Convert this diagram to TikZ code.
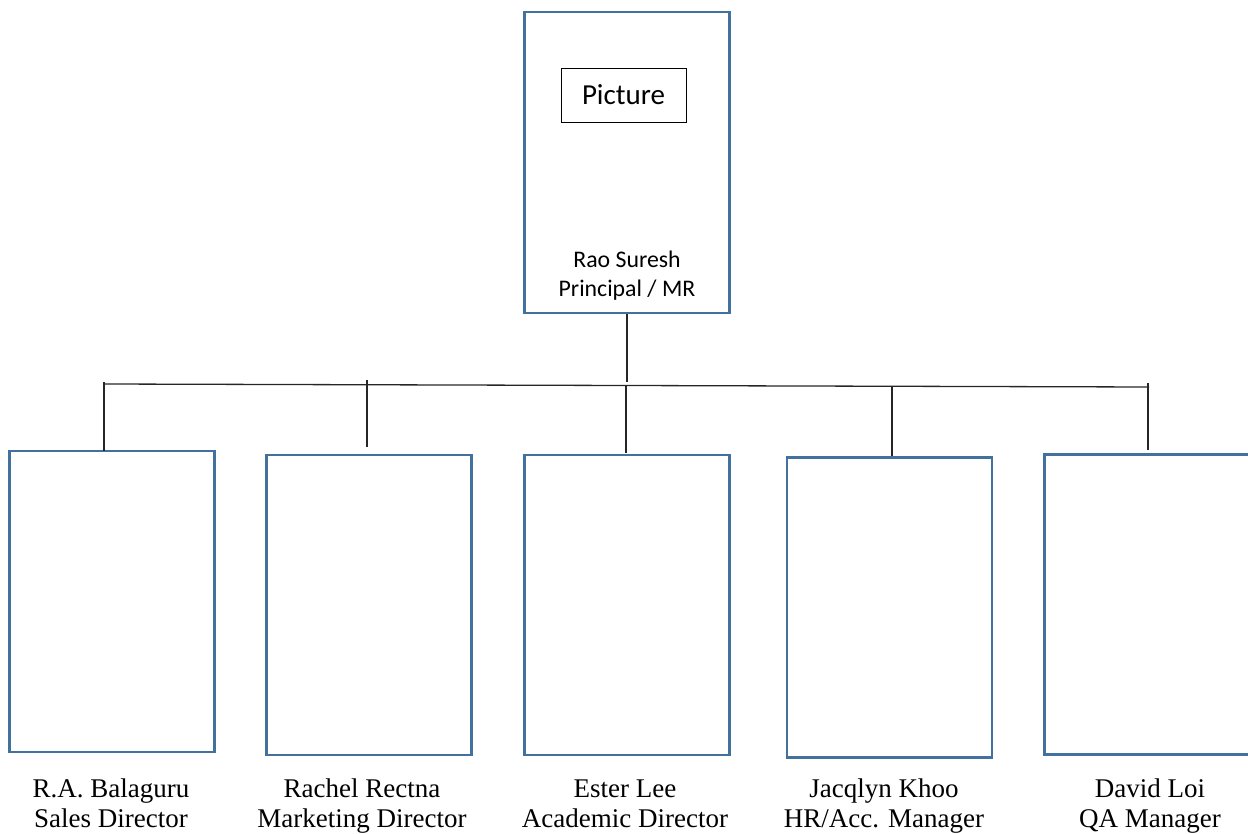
\documentclass[tikz,border=0pt]{standalone}
\usepackage{fontspec}
\setmainfont{Liberation Serif}
\newfontfamily\calib{Carlito}
\definecolor{boxblue}{RGB}{65,113,156}
\begin{document}
\begin{tikzpicture}[x=1pt,y=-1pt,
  pbox/.style={draw=boxblue,line width=2.6pt,minimum width=205pt,minimum height=300pt,inner sep=0pt},
  conn/.style={draw=black!85,line width=1.3pt},
  lbl/.style={align=center,font=\fontsize{27}{30}\selectfont,inner sep=0pt}]
\useasboundingbox (0,0) rectangle (1248,834);
% top box
\node[pbox,minimum height=301pt] (top) at (627,162.5) {};
\node[draw=black,line width=0.9pt,minimum width=125pt,minimum height=54pt,inner sep=0pt,font=\calib\fontsize{29}{32}\selectfont] (pic) at (623.5,95) {Picture};
\node[align=center,inner sep=0pt,font=\calib\fontsize{23.8}{29}\selectfont] (rao) at (627,276) {Rao Suresh\\Principal / MR};
% children
\node[pbox,minimum height=301pt] (c1) at (112,601.5) {};
\node[pbox] (c2) at (369,605) {};
\node[pbox] (c3) at (627,605) {};
\node[pbox,minimum width=205pt] (c4) at (889.5,607.5) {};
\node[pbox] (c5) at (1147,604.5) {};
% labels
\node[lbl] (l1) at (111,806) {\strut R.A. Balaguru\\\strut Sales Director};
\node[lbl] (l2) at (362,806) {\strut Rachel Rectna\\\strut Marketing Director};
\node[lbl] (l3) at (625,806) {\strut Ester Lee\\\strut Academic Director};
\node[lbl] (l4) at (884,806) {\strut Jacqlyn Khoo\\\strut HR/Acc. Manager};
\node[lbl] (l5) at (1150,806) {\strut David Loi\\\strut QA Manager};
% bus coordinates
\coordinate (bL) at (104,384);
\coordinate (bR) at (1149,387);
\coordinate (j0) at (627,382);
\coordinate (t1) at (104,382);
\coordinate (t2) at (367,380);
\coordinate (t3) at (626,386);
\coordinate (t4) at (892,387);
\coordinate (t5) at (1148,383);
\coordinate (e1) at (104,451);
\coordinate (e2) at (367,447);
\coordinate (e3) at (626,453);
\coordinate (e4) at (892,456);
\coordinate (e5) at (1148,450);
\draw[conn] (top.south) -- (j0);
\draw[conn] (bL) -- (bR);
\draw[conn] (t1) -- (e1);
\draw[conn] (t2) -- (e2);
\draw[conn] (t3) -- (e3);
\draw[conn] (t4) -- (e4);
\draw[conn] (t5) -- (e5);
\end{tikzpicture}
\end{document}
